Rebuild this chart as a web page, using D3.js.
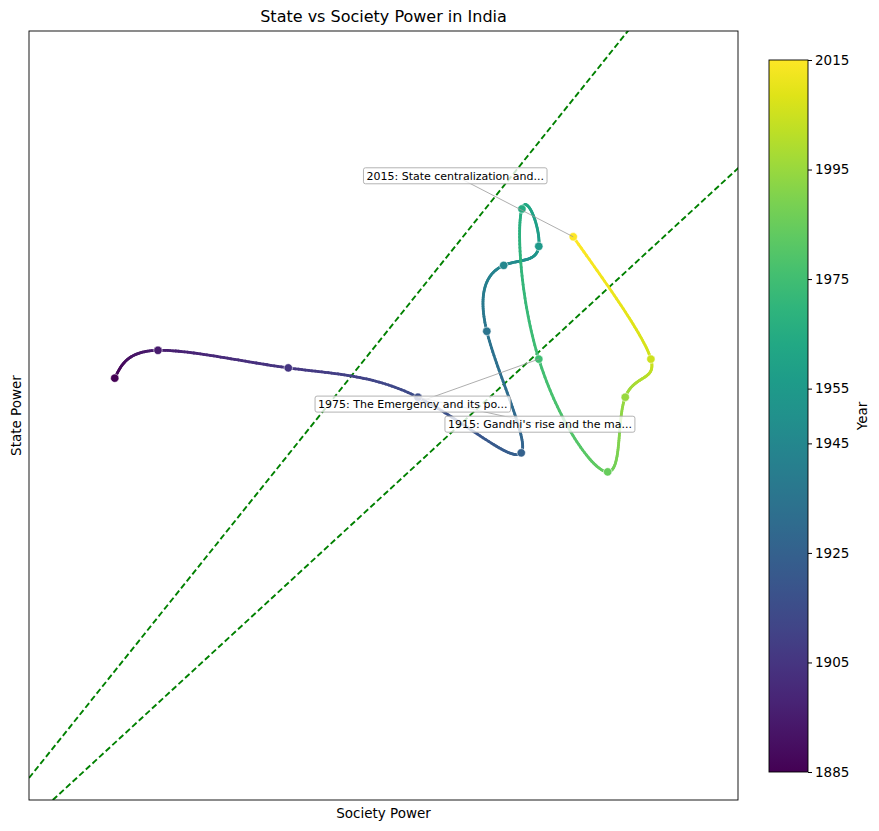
<!DOCTYPE html>
<html>
<head>
<meta charset="utf-8">
<script src="https://cdn.jsdelivr.net/npm/d3@7"></script>
<style>
  body { margin: 0; background: #fff; }
  svg { font-family: "DejaVu Sans", sans-serif; }
</style>
</head>
<body>
<div id="chart"></div>
<script>
// data
const years = [1885, 1895, 1905, 1915, 1925, 1935, 1945, 1955, 1965, 1975, 1985, 1995, 2005, 2015];
const society = [0.327, 0.391, 0.584, 0.776, 0.929, 0.878, 0.903, 0.955, 0.930, 0.955, 1.057, 1.083, 1.121, 1.006];
const state = [0.776, 0.814, 0.790, 0.750, 0.674, 0.840, 0.930, 0.956, 1.007, 0.802, 0.648, 0.750, 0.802, 0.969];
const cbarTicks = [1885, 1905, 1925, 1945, 1955, 1975, 1995, 2015];
const noteYears = [2015, 1975, 1915];
const noteTexts = ["2015: State centralization and...", "1975: The Emergency and its po...", "1915: Gandhi's rise and the ma..."];
const bandSlopes = [1.15, 0.85];

const width = 879, height = 831;
const margin = { left: 29, right: 141, top: 31, bottom: 31 };

const svg = d3.select("#chart").append("svg")
    .attr("width", width)
    .attr("height", height);

const x = d3.scaleLinear().domain([0.2, 1.25]).range([margin.left, width - margin.right]);
const y = d3.scaleLinear().domain([0.2, 1.25]).range([height - margin.bottom, margin.top]);
const color = d3.scaleSequential(d3.interpolateViridis).domain([1885, 2015]);

svg.append("clipPath").attr("id", "clip")
    .append("rect")
    .attr("x", x.range()[0]).attr("y", y.range()[1])
    .attr("width", x.range()[1] - x.range()[0])
    .attr("height", y.range()[0] - y.range()[1]);

const plot = svg.append("g").attr("clip-path", "url(#clip)");

// dashed reference lines through origin
bandSlopes.forEach(k => {
    plot.append("line")
        .attr("x1", x(0)).attr("y1", y(0))
        .attr("x2", x(2)).attr("y2", y(2 * k))
        .attr("stroke", "green")
        .attr("stroke-width", 1.9)
        .attr("stroke-dasharray", "6,3");
});

// capture the natural spline segments from d3's curve so each piece can be coloured by year
const pts = years.map((yr, i) => [x(society[i]), y(state[i])]);
const segs = [];
let cur = null;
const ctx = {
    moveTo(a, b) { cur = [a, b]; },
    lineTo(a, b) { segs.push([cur, cur, [a, b], [a, b]]); cur = [a, b]; },
    bezierCurveTo(a, b, c, d, e, f) { segs.push([cur, [a, b], [c, d], [e, f]]); cur = [e, f]; },
    closePath() {}
};
d3.line().curve(d3.curveNatural).context(ctx)(pts);

function bez(p, t) {
    const u = 1 - t;
    return [
        u * u * u * p[0][0] + 3 * u * u * t * p[1][0] + 3 * u * t * t * p[2][0] + t * t * t * p[3][0],
        u * u * u * p[0][1] + 3 * u * u * t * p[1][1] + 3 * u * t * t * p[2][1] + t * t * t * p[3][1]
    ];
}

const steps = 40;
segs.forEach((s, i) => {
    for (let j = 0; j < steps; j++) {
        const a = bez(s, j / steps), b = bez(s, (j + 1) / steps);
        const yr = years[i] + (years[i + 1] - years[i]) * (j + 0.5) / steps;
        plot.append("line")
            .attr("x1", a[0]).attr("y1", a[1])
            .attr("x2", b[0]).attr("y2", b[1])
            .attr("stroke", color(yr))
            .attr("stroke-width", 2.8)
            .attr("stroke-linecap", "round");
    }
});

plot.selectAll("circle.pt")
    .data(years)
    .enter().append("circle")
    .attr("class", "pt")
    .attr("cx", (d, i) => x(society[i]))
    .attr("cy", (d, i) => y(state[i]))
    .attr("r", 4.2)
    .attr("fill", d => color(d))
    .attr("stroke", "#fff")
    .attr("stroke-width", 0.6);

// annotations
const noteOffsets = { 2015: [-118, -61], 1975: [-126, 45], 1915: [122, 27] };
const notesG = svg.append("g");
noteYears.forEach((yr, k) => {
    const i = years.indexOf(yr);
    const px = x(society[i]), py = y(state[i]);
    const cx = px + noteOffsets[yr][0], cy = py + noteOffsets[yr][1];
    notesG.append("line")
        .attr("x1", cx).attr("y1", cy)
        .attr("x2", px).attr("y2", py)
        .attr("stroke", "#999")
        .attr("stroke-width", 0.8);
});
noteYears.forEach((yr, k) => {
    const i = years.indexOf(yr);
    const px = x(society[i]), py = y(state[i]);
    const cx = px + noteOffsets[yr][0], cy = py + noteOffsets[yr][1];
    const g = notesG.append("g");
    const t = g.append("text")
        .attr("x", cx).attr("y", cy)
        .attr("text-anchor", "middle")
        .attr("dy", "0.35em")
        .attr("font-size", "11px")
        .attr("fill", "#000")
        .text(noteTexts[k]);
    const bb = t.node().getBBox();
    g.insert("rect", "text")
        .attr("x", bb.x - 3).attr("y", cy - 8)
        .attr("width", bb.width + 6).attr("height", 16)
        .attr("rx", 2)
        .attr("fill", "#fff")
        .attr("fill-opacity", 0.8)
        .attr("stroke", "#aaa")
        .attr("stroke-width", 0.9);
});

// frame
svg.append("rect")
    .attr("x", x.range()[0]).attr("y", y.range()[1])
    .attr("width", x.range()[1] - x.range()[0])
    .attr("height", y.range()[0] - y.range()[1])
    .attr("fill", "none")
    .attr("stroke", "#000")
    .attr("stroke-width", 0.9);

// titles
svg.append("text")
    .attr("x", (x.range()[0] + x.range()[1]) / 2).attr("y", 22)
    .attr("text-anchor", "middle")
    .attr("font-size", "16px")
    .text("State vs Society Power in India");

svg.append("text")
    .attr("x", (x.range()[0] + x.range()[1]) / 2).attr("y", 818)
    .attr("text-anchor", "middle")
    .attr("font-size", "13.5px")
    .text("Society Power");

svg.append("text")
    .attr("transform", `translate(21, ${(y.range()[0] + y.range()[1]) / 2}) rotate(-90)`)
    .attr("text-anchor", "middle")
    .attr("font-size", "13.5px")
    .text("State Power");

// colorbar
const cb = { x: 769, w: 39, top: 60, bottom: 772 };
const cy = d3.scaleLinear().domain([1885, 2015]).range([cb.bottom, cb.top]);
const grad = svg.append("defs").append("linearGradient")
    .attr("id", "cbgrad")
    .attr("x1", 0).attr("y1", 1).attr("x2", 0).attr("y2", 0);
d3.range(0, 1.0001, 0.05).forEach(t => {
    grad.append("stop")
        .attr("offset", t)
        .attr("stop-color", d3.interpolateViridis(t));
});
svg.append("rect")
    .attr("x", cb.x).attr("y", cb.top)
    .attr("width", cb.w).attr("height", cb.bottom - cb.top)
    .attr("fill", "url(#cbgrad)")
    .attr("stroke", "#000")
    .attr("stroke-width", 0.9);

const cbAxis = svg.append("g")
    .attr("transform", `translate(${cb.x + cb.w},0)`)
    .call(d3.axisRight(cy).tickValues(cbarTicks).tickFormat(d3.format("d")).tickSize(4).tickPadding(3));
cbAxis.select(".domain").remove();
cbAxis.selectAll("text").attr("font-size", "13.5px").attr("font-family", "DejaVu Sans, sans-serif").attr("fill", "#000");
cbAxis.selectAll("line").attr("stroke", "#000");

svg.append("text")
    .attr("transform", `translate(867, ${(cb.top + cb.bottom) / 2}) rotate(-90)`)
    .attr("text-anchor", "middle")
    .attr("font-size", "13.5px")
    .text("Year");
</script>
</body>
</html>
